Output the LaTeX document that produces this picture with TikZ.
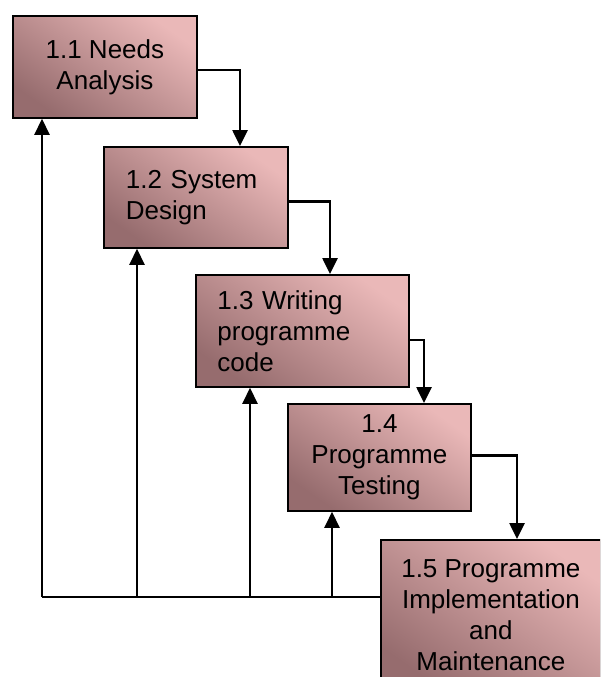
\documentclass[tikz,border=0pt]{standalone}
\usepackage{fontspec}
\setmainfont{Liberation Sans}
\usetikzlibrary{positioning, arrows.meta, calc}
\definecolor{stagelight}{RGB}{234,184,184}
\definecolor{stagedark}{RGB}{150,108,110}

\begin{document}
\begin{tikzpicture}[x=1pt, y=-1pt,
	stagebox/.style={draw, line width=1.8pt, inner sep=0pt, anchor=north west,
		top color=stagelight, bottom color=stagedark, shading angle=-35,
		font=\fontsize{26}{31}\selectfont},
	flow/.style={-{Triangle[length=16pt, width=15pt]}, line width=2.6pt},
	back/.style={line width=2.6pt}]
	\useasboundingbox (0,0) rectangle (600,677);
	\clip (0,0) rectangle (600,677);
	% Stages
	\node[stagebox, minimum width=184pt, minimum height=102pt, align=center] (needs) at (12,15) {1.1 Needs\\Analysis};
	\node[stagebox, minimum width=184pt, minimum height=101pt, align=left, text width=140pt] (design) at (103,146) {1.2 System\\Design};
	\node[stagebox, minimum width=213pt, minimum height=112pt, align=left, text width=170pt] (coding) at (195,274) {1.3 Writing\\programme\\code};
	\node[stagebox, minimum width=183pt, minimum height=107pt, align=center] (testing) at (287,403) {1.4\\Programme\\Testing};
	\node[stagebox, minimum width=220pt, minimum height=150pt, align=center] (maint) at (380,539) {1.5 Programme\\Implementation\\and\\Maintenance};

	% Forward connections
	\draw[flow] ([yshift=-3pt]needs.east) -| ([xshift=137pt]design.north west);
	\draw[flow] ([yshift=-4pt]design.east) -| ([xshift=135pt]coding.north west);
	\draw[flow] ([yshift=-9pt]coding.east) -| ([xshift=137pt]testing.north west);
	\draw[flow] ([yshift=2pt]testing.east) -| ([xshift=137pt]maint.north west);

	% Feedback connections
	\coordinate (fb1) at (42,597);
	\coordinate (fb2) at (137,597);
	\coordinate (fb3) at (250,597);
	\coordinate (fb4) at (332,597);
	\draw[back] (maint.west |- fb1) -- (fb1);
	\draw[flow] (fb1) -- (fb1 |- needs.south);
	\draw[flow] (fb2) -- (fb2 |- design.south);
	\draw[flow] (fb3) -- (fb3 |- coding.south);
	\draw[flow] (fb4) -- (fb4 |- testing.south);
\end{tikzpicture}
\end{document}
